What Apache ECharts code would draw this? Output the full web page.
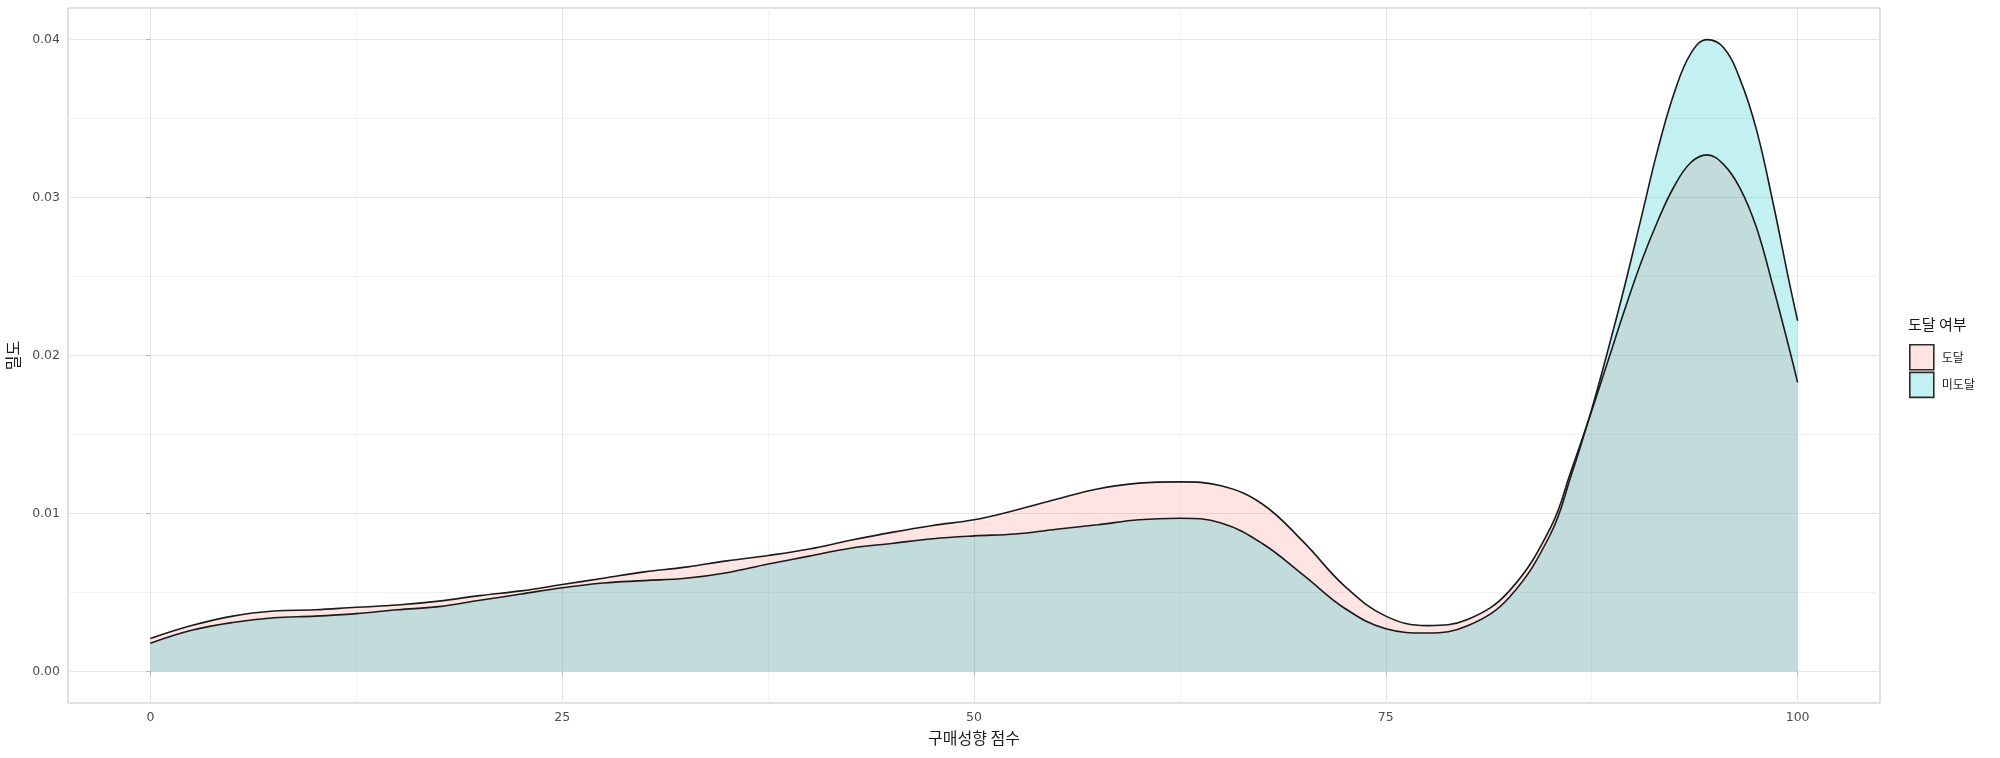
<!DOCTYPE html>
<html>
<head>
<meta charset="utf-8">
<script src="https://cdn.jsdelivr.net/npm/echarts@6/dist/echarts.min.js"></script>
<style>
  html, body { margin: 0; padding: 0; background: #fff; }
  #chart { width: 2000px; height: 758px; }
</style>
</head>
<body>
<div id="chart"></div>
<script>
// 구매성향 점수 (x) 와 그룹별 밀도 추정값
var scores = [0, 2.5, 5, 7.5, 10, 12.5, 15, 17.5, 20, 22.5, 25, 27.5, 30, 32.5, 35, 37.5, 40, 42.5, 45, 47.5,
  50, 52.5, 55, 57.5, 60, 62.5, 65, 67.5, 70, 72.5, 75, 77.5, 80, 82.5, 85, 86.25, 87.5, 88.5, 89.5, 90.5,
  91.5, 92.5, 93.5, 94.5, 95.5, 96.5, 97.5, 98.5, 99.5, 100]
var reached = [0.00208, 0.0029, 0.0035, 0.00382, 0.0039, 0.00406, 0.0042, 0.00445, 0.0048, 0.0051,
  0.0055, 0.0059, 0.0063, 0.0066, 0.0070, 0.00734, 0.00775, 0.0083, 0.0088, 0.00924,
  0.0096, 0.0102, 0.0109, 0.01155, 0.01192, 0.0120, 0.01175, 0.0106, 0.0082, 0.0054,
  0.0035, 0.0029, 0.0033, 0.0051, 0.0091, 0.0127, 0.0165, 0.0197, 0.0229, 0.0259,
  0.0285, 0.0307, 0.0322, 0.0327, 0.0321, 0.0306, 0.0281, 0.0244, 0.0204, 0.0183]
var notReached = [0.00178, 0.0026, 0.0031, 0.0034, 0.0035, 0.00366, 0.0039, 0.0041, 0.0045, 0.0049,
  0.0053, 0.0056, 0.00575, 0.0059, 0.00625, 0.0068, 0.0073, 0.0078, 0.0081, 0.0084,
  0.00858, 0.0087, 0.0090, 0.00928, 0.0096, 0.0097, 0.0094, 0.0081, 0.0061, 0.0040,
  0.0027, 0.00243, 0.0029, 0.0047, 0.0087, 0.0124, 0.0166, 0.0204, 0.0244, 0.0287,
  0.0330, 0.0366, 0.0391, 0.0400, 0.0395, 0.0375, 0.0343, 0.0297, 0.0246, 0.0222]
var groupNames = ['도달', '미도달']
var xTicks = [0, 25, 50, 75, 100]
var xMinor = [12.5, 37.5, 62.5, 87.5]
var yTicks = [0, 0.01, 0.02, 0.03, 0.04]
var yMinor = [0.005, 0.015, 0.025, 0.035]

var font = 'Noto Sans CJK KR'
var numFont = 'DejaVu Sans'
var fills = ['rgba(248,118,109,0.2)', 'rgba(0,191,196,0.235)']

function pairs (ys) {
  return scores.map(function (x, i) { return [x, ys[i]] })
}

var chart = echarts.init(document.getElementById('chart'))

var option = {
  animation: false,
  backgroundColor: '#fff',
  textStyle: { fontFamily: font },
  title: {
    text: '도달 여부',
    left: 1908,
    top: 317,
    padding: 0,
    textStyle: { fontFamily: font, fontSize: 15, fontWeight: 'normal', color: '#1a1a1a' }
  },
  legend: {
    orient: 'vertical',
    left: 1909,
    top: 344,
    padding: 0,
    icon: 'rect',
    itemWidth: 24,
    itemHeight: 25,
    itemGap: 1,
    selectedMode: false,
    textStyle: { fontFamily: font, fontSize: 12, color: '#1a1a1a', padding: [0, 0, 0, 3] },
    data: [
      { name: groupNames[0], itemStyle: { color: fills[0], borderColor: '#2b2b2b', borderWidth: 1.6 } },
      { name: groupNames[1], itemStyle: { color: fills[1], borderColor: '#2b2b2b', borderWidth: 1.6 } }
    ]
  },
  grid: {
    left: 68,
    right: 120,
    top: 8,
    bottom: 55,
    outerBoundsMode: 'none',
    show: true,
    borderColor: '#c2c2c2',
    borderWidth: 1
  },
  xAxis: [
    {
      type: 'value',
      min: -5,
      max: 105,
      name: '구매성향 점수',
      nameLocation: 'middle',
      nameGap: 27,
      nameTextStyle: { fontFamily: font, fontSize: 16, color: '#1a1a1a' },
      axisLine: { show: false },
      axisTick: { show: true, length: 4, lineStyle: { color: '#b3b3b3' }, customValues: xTicks },
      axisLabel: { fontFamily: numFont, fontSize: 12.5, color: '#4d4d4d', margin: 8, customValues: xTicks },
      splitLine: { show: true, lineStyle: { color: '#e6e6e6', width: 1 } }
    },
    {
      type: 'value',
      min: -5,
      max: 105,
      position: 'top',
      axisLine: { show: false },
      axisTick: { show: false, customValues: xMinor },
      axisLabel: { show: false },
      splitLine: { show: true, lineStyle: { color: '#f2f2f2', width: 1 } }
    }
  ],
  yAxis: [
    {
      type: 'value',
      min: -0.002,
      max: 0.042,
      name: '밀도',
      nameLocation: 'middle',
      nameGap: 44,
      nameTextStyle: { fontFamily: font, fontSize: 16, color: '#1a1a1a' },
      axisLine: { show: false },
      axisTick: { show: true, length: 4, lineStyle: { color: '#b3b3b3' }, customValues: yTicks },
      axisLabel: {
        fontFamily: numFont,
        fontSize: 12.5,
        color: '#4d4d4d',
        margin: 8,
        customValues: yTicks,
        formatter: function (v) { return v.toFixed(2) }
      },
      splitLine: { show: true, lineStyle: { color: '#e6e6e6', width: 1 } }
    },
    {
      type: 'value',
      min: -0.002,
      max: 0.042,
      position: 'right',
      axisLine: { show: false },
      axisTick: { show: false, customValues: yMinor },
      axisLabel: { show: false },
      splitLine: { show: true, lineStyle: { color: '#f2f2f2', width: 1 } }
    }
  ],
  series: [
    {
      name: groupNames[0],
      type: 'line',
      data: pairs(reached),
      smooth: 0.4,
      showSymbol: false,
      itemStyle: { color: fills[0] },
      lineStyle: { color: '#1a1a1a', width: 1.6 },
      areaStyle: { color: fills[0], opacity: 1, origin: 0 }
    },
    {
      name: groupNames[1],
      type: 'line',
      data: pairs(notReached),
      smooth: 0.4,
      showSymbol: false,
      itemStyle: { color: fills[1] },
      lineStyle: { color: '#1a1a1a', width: 1.6 },
      areaStyle: { color: fills[1], opacity: 1, origin: 0 }
    }
  ]
}
chart.setOption(option)
</script>
</body>
</html>
